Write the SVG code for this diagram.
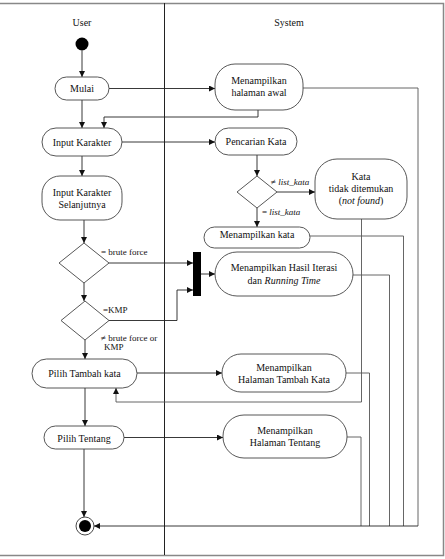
<svg xmlns="http://www.w3.org/2000/svg" width="445" height="559" viewBox="0 0 445 559" font-family="'Liberation Serif', 'Times New Roman', serif">
<style>
text{font-family:'Liberation Serif','Times New Roman',Times,serif;font-size:10px;fill:#111}
.c{text-anchor:middle}
.lb{font-size:9px}
.box{fill:#fff;stroke:#444;stroke-width:0.9}
.ln{fill:none;stroke:#222;stroke-width:0.9}
.ln2{fill:none;stroke:#555;stroke-width:0.9}
</style>
<defs>
<marker id="ah" viewBox="0 0 8 8" refX="8" refY="4" markerWidth="6" markerHeight="6" markerUnits="userSpaceOnUse" orient="auto">
<path d="M0,0 L8,4 L0,8 Z" fill="#111"/>
</marker>
</defs>
<rect width="445" height="559" fill="#fff"/>
<g id="frame">
<path d="M0,3.5 H443.5 V555.5 H0" fill="none" stroke="#888" stroke-width="1.5"/>
<line x1="164.5" y1="3" x2="164.5" y2="555" stroke="#222" stroke-width="1"/>
<text class="c" x="82" y="26">User</text>
<text class="c" x="289" y="26">System</text>
</g>
<g id="connectors">
<path class="ln" d="M82,50.5 V77" marker-end="url(#ah)"/>
<path class="ln" d="M109,88.5 H215" marker-end="url(#ah)"/>
<path class="ln" d="M258,110 V117 H104 V128" marker-end="url(#ah)"/>
<path class="ln" d="M82,100 V128" marker-end="url(#ah)"/>
<path class="ln2" d="M303,88 H418 V526"/>
<path class="ln" d="M122,142 H215" marker-end="url(#ah)"/>
<path class="ln" d="M82,156 V176" marker-end="url(#ah)"/>
<path class="ln" d="M257,155 V176" marker-end="url(#ah)"/>
<path class="ln" d="M277,192 H315" marker-end="url(#ah)"/>
<path class="ln" d="M257,208 V227" marker-end="url(#ah)"/>
<path class="ln2" d="M310,236 H403.5 V526"/>
<path class="ln2" d="M361.5,219 V402 H116 V388" marker-end="url(#ah)"/>
<path class="ln" d="M84,220 V243" marker-end="url(#ah)"/>
<path class="ln" d="M109,263 H193" marker-end="url(#ah)"/>
<path class="ln" d="M84,283 V301" marker-end="url(#ah)"/>
<path class="ln" d="M109,320.5 H177 V290 H193" marker-end="url(#ah)"/>
<path class="ln" d="M201,274 H215" marker-end="url(#ah)"/>
<path class="ln2" d="M353,275 H389.5 V526"/>
<path class="ln" d="M85,340 V359" marker-end="url(#ah)"/>
<path class="ln" d="M137,373 H222" marker-end="url(#ah)"/>
<path class="ln2" d="M346,373 H369.5 V526"/>
<path class="ln" d="M85,388 V426" marker-end="url(#ah)"/>
<path class="ln" d="M124,437.5 H223" marker-end="url(#ah)"/>
<path class="ln2" d="M347,437 H361 V526"/>
<path class="ln" d="M84,449 V517" marker-end="url(#ah)"/>
<path class="ln" d="M418,526 H94" marker-end="url(#ah)"/>
</g>
<g id="start"><circle cx="82" cy="44" r="6.5" fill="#000"/></g>
<g id="mulai"><rect class="box" x="55" y="77" width="54" height="23" rx="11.5"/><text class="c" x="82" y="92">Mulai</text></g>
<g id="halaman-awal"><rect class="box" x="215" y="64" width="88" height="46" rx="20"/><text class="c" x="259" y="83.5">Menampilkan</text><text class="c" x="259" y="95.5">halaman awal</text></g>
<g id="input-karakter"><rect class="box" x="42" y="128" width="80" height="28" rx="14"/><text class="c" x="82" y="145.5">Input Karakter</text></g>
<g id="pencarian-kata"><rect class="box" x="215" y="128" width="82" height="27" rx="13.5"/><text class="c" x="256" y="145">Pencarian Kata</text></g>
<g id="decision-kata"><polygon class="box" points="257,176 277,192 257,208 237,192"/>
<text class="lb" x="271" y="185">≠ <tspan font-style="italic">list_kata</tspan></text>
<text class="lb" x="262" y="215">= <tspan font-style="italic">list_kata</tspan></text></g>
<g id="tidak-ditemukan"><rect class="box" x="315" y="159" width="92" height="60" rx="22"/><text class="c" x="361" y="180">Kata</text><text class="c" x="361" y="192">tidak ditemukan</text><text class="c" x="361" y="204">(<tspan font-style="italic">not found</tspan>)</text></g>
<g id="menampilkan-kata"><rect class="box" x="204" y="227" width="106" height="21" rx="10.5"/><text class="c" x="257" y="238">Menampilkan kata</text></g>
<g id="input-selanjutnya"><rect class="box" x="42" y="176" width="80" height="44" rx="18"/><text class="c" x="82" y="195.5">Input Karakter</text><text class="c" x="82" y="207.5">Selanjutnya</text></g>
<g id="decision-brute"><polygon class="box" points="84,243 109,263 84,283 59,263"/><text class="lb" x="101" y="255">= brute force</text></g>
<g id="decision-kmp"><polygon class="box" points="85,301 109,320.5 85,340 61,320.5"/><text class="lb" x="103" y="313">=KMP</text><text class="lb" x="101" y="340.5">≠ brute force or</text><text class="lb" x="104" y="350">KMP</text></g>
<g id="fork"><rect x="193" y="252" width="8" height="44" fill="#000"/></g>
<g id="hasil-iterasi"><rect class="box" x="215" y="252" width="138" height="44" rx="22"/><text class="c" x="284" y="271">Menampilkan Hasil Iterasi</text><text class="c" x="284" y="284">dan <tspan font-style="italic">Running Time</tspan></text></g>
<g id="pilih-tambah"><rect class="box" x="32" y="359" width="105" height="29" rx="14.5"/><text class="c" x="84.5" y="376.5">Pilih Tambah kata</text></g>
<g id="halaman-tambah"><rect class="box" x="222" y="354" width="124" height="38" rx="19"/><text class="c" x="284" y="371">Menampilkan</text><text class="c" x="284" y="382.5">Halaman Tambah Kata</text></g>
<g id="pilih-tentang"><rect class="box" x="44" y="426" width="80" height="23" rx="11.5"/><text class="c" x="84" y="441.5">Pilih Tentang</text></g>
<g id="halaman-tentang"><rect class="box" x="223" y="415" width="124" height="43" rx="21"/><text class="c" x="285" y="434">Menampilkan</text><text class="c" x="285" y="446">Halaman Tentang</text></g>
<g id="end"><circle cx="85" cy="526" r="9" fill="#fff" stroke="#333" stroke-width="0.9"/><circle cx="85" cy="526" r="6" fill="#000"/></g>
</svg>
